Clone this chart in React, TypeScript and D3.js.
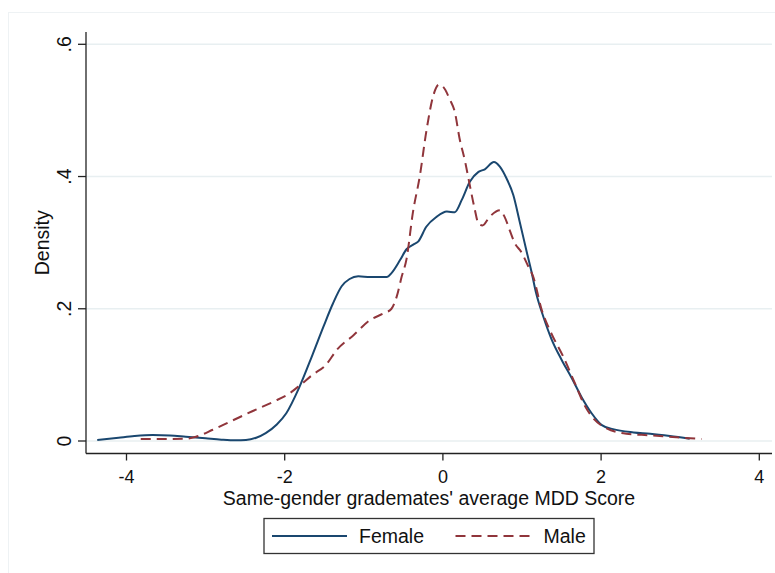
import { useEffect, useRef } from 'react'
import * as d3 from 'd3'

// Kernel density estimates
const femaleX = [
  -4.37, -4.1, -3.9, -3.67, -3.45, -3.25, -3.0, -2.8, -2.62, -2.49, -2.36, -2.24, -2.1, -1.98,
  -1.82, -1.65, -1.51, -1.39, -1.28, -1.18, -1.07, -0.92, -0.8, -0.71, -0.65, -0.54, -0.46,
  -0.375, -0.31, -0.21, -0.08, 0.05, 0.15, 0.24, 0.34, 0.45, 0.53, 0.645, 0.72, 0.805, 0.89,
  0.97, 1.06, 1.12, 1.18, 1.27, 1.37, 1.5, 1.63, 1.75, 1.88, 2.01, 2.15, 2.41, 2.62, 2.87, 3.12,
]
const femaleY = [
  0.0015, 0.005, 0.0075, 0.009, 0.0085, 0.0065, 0.004, 0.002, 0.001, 0.0015, 0.005, 0.012, 0.025,
  0.042, 0.08, 0.13, 0.173, 0.208, 0.234, 0.245, 0.249, 0.248, 0.248, 0.248, 0.254, 0.274, 0.29,
  0.297, 0.302, 0.324, 0.339, 0.347, 0.346, 0.365, 0.392, 0.407, 0.411, 0.422, 0.415, 0.397,
  0.372, 0.332, 0.286, 0.256, 0.223, 0.188, 0.155, 0.123, 0.095, 0.067, 0.042, 0.024, 0.018,
  0.013, 0.011, 0.0076, 0.0035,
]

const maleX = [
  -3.82, -3.5, -3.25, -3.12, -2.91, -2.66, -2.41, -2.15, -1.94, -1.8, -1.65, -1.48, -1.34, -1.13,
  -0.92, -0.75, -0.65, -0.585, -0.52, -0.46, -0.38, -0.29, -0.21, -0.12, -0.05, 0.0, 0.09, 0.15,
  0.21, 0.28, 0.34, 0.4, 0.45, 0.5, 0.59, 0.72, 0.78, 0.85, 0.91, 0.99, 1.08, 1.14, 1.25, 1.37,
  1.52, 1.67, 1.8, 1.92, 2.07, 2.32, 2.62, 2.95, 3.27,
]
const maleY = [
  0.003, 0.003, 0.0035, 0.0065, 0.017, 0.031, 0.045, 0.059, 0.072, 0.085, 0.1, 0.115, 0.138,
  0.16, 0.183, 0.193, 0.2, 0.218, 0.249, 0.275, 0.345, 0.402, 0.468, 0.523, 0.539, 0.536, 0.516,
  0.498, 0.458, 0.423, 0.387, 0.352, 0.329, 0.326, 0.339, 0.349, 0.339, 0.317, 0.299, 0.286,
  0.264, 0.249, 0.198, 0.163, 0.128, 0.087, 0.052, 0.032, 0.019, 0.011, 0.0086, 0.0056, 0.003,
]

const xTicks = [-4, -2, 0, 2, 4]
const yTicks = [0, 0.2, 0.4, 0.6]
const seriesNames = ['Female', 'Male']

const xTitle = "Same-gender grademates' average MDD Score"
const yTitle = 'Density'

export default function App() {
  const svgRef = useRef<SVGSVGElement>(null)

  useEffect(() => {
    if (!svgRef.current) return
    const width = 775
    const height = 573
    const font = "'Liberation Sans', Arial, Helvetica, sans-serif"

    const plot = { left: 86, right: 772, top: 32, bottom: 453.5 }

    const svg = d3.select(svgRef.current)
    svg.selectAll('*').remove()

    svg.append('rect').attr('width', width).attr('height', height).attr('fill', '#fff')
    // faint graph region border
    svg
      .append('rect')
      .attr('x', 8.5)
      .attr('y', 12.5)
      .attr('width', 800)
      .attr('height', 600)
      .attr('fill', 'none')
      .attr('stroke', '#eef2f4')
      .attr('stroke-width', 1)

    const xScale = d3.scaleLinear().domain([-4, 4]).range([126.5, 759.3])
    const yScale = d3.scaleLinear().domain([0, 0.6]).range([441, 44.3])

    // Gridlines
    svg
      .append('g')
      .selectAll('line')
      .data(yTicks)
      .enter()
      .append('line')
      .attr('x1', plot.left)
      .attr('x2', plot.right)
      .attr('y1', (d) => yScale(d))
      .attr('y2', (d) => yScale(d))
      .attr('stroke', '#e8eff1')
      .attr('stroke-width', 1.5)

    // Axis lines
    svg
      .append('line')
      .attr('x1', plot.left)
      .attr('x2', plot.left)
      .attr('y1', plot.top)
      .attr('y2', plot.bottom)
      .attr('stroke', '#222')
      .attr('stroke-width', 1.3)
    svg
      .append('line')
      .attr('x1', plot.left)
      .attr('x2', plot.right)
      .attr('y1', plot.bottom)
      .attr('y2', plot.bottom)
      .attr('stroke', '#222')
      .attr('stroke-width', 1.3)

    // Y ticks + labels
    const yFmt = (d: number) => (d === 0 ? '0' : d3.format('.1f')(d).replace(/^0/, ''))
    const yt = svg.append('g').selectAll('g').data(yTicks).enter().append('g')
    yt.append('line')
      .attr('x1', plot.left - 8)
      .attr('x2', plot.left)
      .attr('y1', (d) => yScale(d))
      .attr('y2', (d) => yScale(d))
      .attr('stroke', '#222')
      .attr('stroke-width', 1.3)
    yt.append('text')
      .attr('transform', (d) => `translate(70.5,${yScale(d)}) rotate(-90)`)
      .attr('text-anchor', 'middle')
      .attr('font-family', font)
      .attr('font-size', 19.5)
      .attr('fill', '#111')
      .text((d) => yFmt(d))

    // X ticks + labels
    const xt = svg.append('g').selectAll('g').data(xTicks).enter().append('g')
    xt.append('line')
      .attr('x1', (d) => xScale(d))
      .attr('x2', (d) => xScale(d))
      .attr('y1', plot.bottom)
      .attr('y2', plot.bottom + 7)
      .attr('stroke', '#222')
      .attr('stroke-width', 1.3)
    xt.append('text')
      .attr('x', (d) => xScale(d))
      .attr('y', 483)
      .attr('text-anchor', 'middle')
      .attr('font-family', font)
      .attr('font-size', 18)
      .attr('fill', '#111')
      .text((d) => String(d))

    // Axis titles
    svg
      .append('text')
      .attr('x', (plot.left + plot.right) / 2)
      .attr('y', 505)
      .attr('text-anchor', 'middle')
      .attr('font-family', font)
      .attr('font-size', 19.5)
      .attr('fill', '#111')
      .text(xTitle)
    svg
      .append('text')
      .attr('transform', `translate(49,${(plot.top + plot.bottom) / 2}) rotate(-90)`)
      .attr('text-anchor', 'middle')
      .attr('font-family', font)
      .attr('font-size', 19.5)
      .attr('fill', '#111')
      .text(yTitle)

    // Density curves
    const line = d3
      .line<[number, number]>()
      .x((d) => xScale(d[0]))
      .y((d) => yScale(d[1]))
      .curve(d3.curveMonotoneX)

    const female: [number, number][] = femaleX.map((x, i) => [x, femaleY[i]])
    const male: [number, number][] = maleX.map((x, i) => [x, maleY[i]])

    const colors = ['#1a476f', '#90353b']
    const dashes = ['none', '10,6']

    svg
      .append('path')
      .datum(female)
      .attr('d', line)
      .attr('fill', 'none')
      .attr('stroke', colors[0])
      .attr('stroke-width', 2)
    svg
      .append('path')
      .datum(male)
      .attr('d', line)
      .attr('fill', 'none')
      .attr('stroke', colors[1])
      .attr('stroke-width', 2)
      .attr('stroke-dasharray', dashes[1])

    // Legend
    const lg = svg.append('g')
    lg.append('rect')
      .attr('x', 264)
      .attr('y', 518.5)
      .attr('width', 330)
      .attr('height', 35)
      .attr('fill', '#fff')
      .attr('stroke', '#333')
      .attr('stroke-width', 1.3)
    const items = [
      { x1: 272, x2: 347, tx: 359 },
      { x1: 455.5, x2: 531, tx: 543.5 },
    ]
    items.forEach((it, i) => {
      lg.append('line')
        .attr('x1', it.x1)
        .attr('x2', it.x2)
        .attr('y1', 536)
        .attr('y2', 536)
        .attr('stroke', colors[i])
        .attr('stroke-width', 2)
        .attr('stroke-dasharray', dashes[i])
      lg.append('text')
        .attr('x', it.tx)
        .attr('y', 543)
        .attr('font-family', font)
        .attr('font-size', 19.5)
        .attr('fill', '#111')
        .text(seriesNames[i])
    })
  }, [])

  return (
    <svg
      ref={svgRef}
      width={775}
      height={573}
      style={{ position: 'absolute', left: 0, top: 0, display: 'block' }}
    />
  )
}
